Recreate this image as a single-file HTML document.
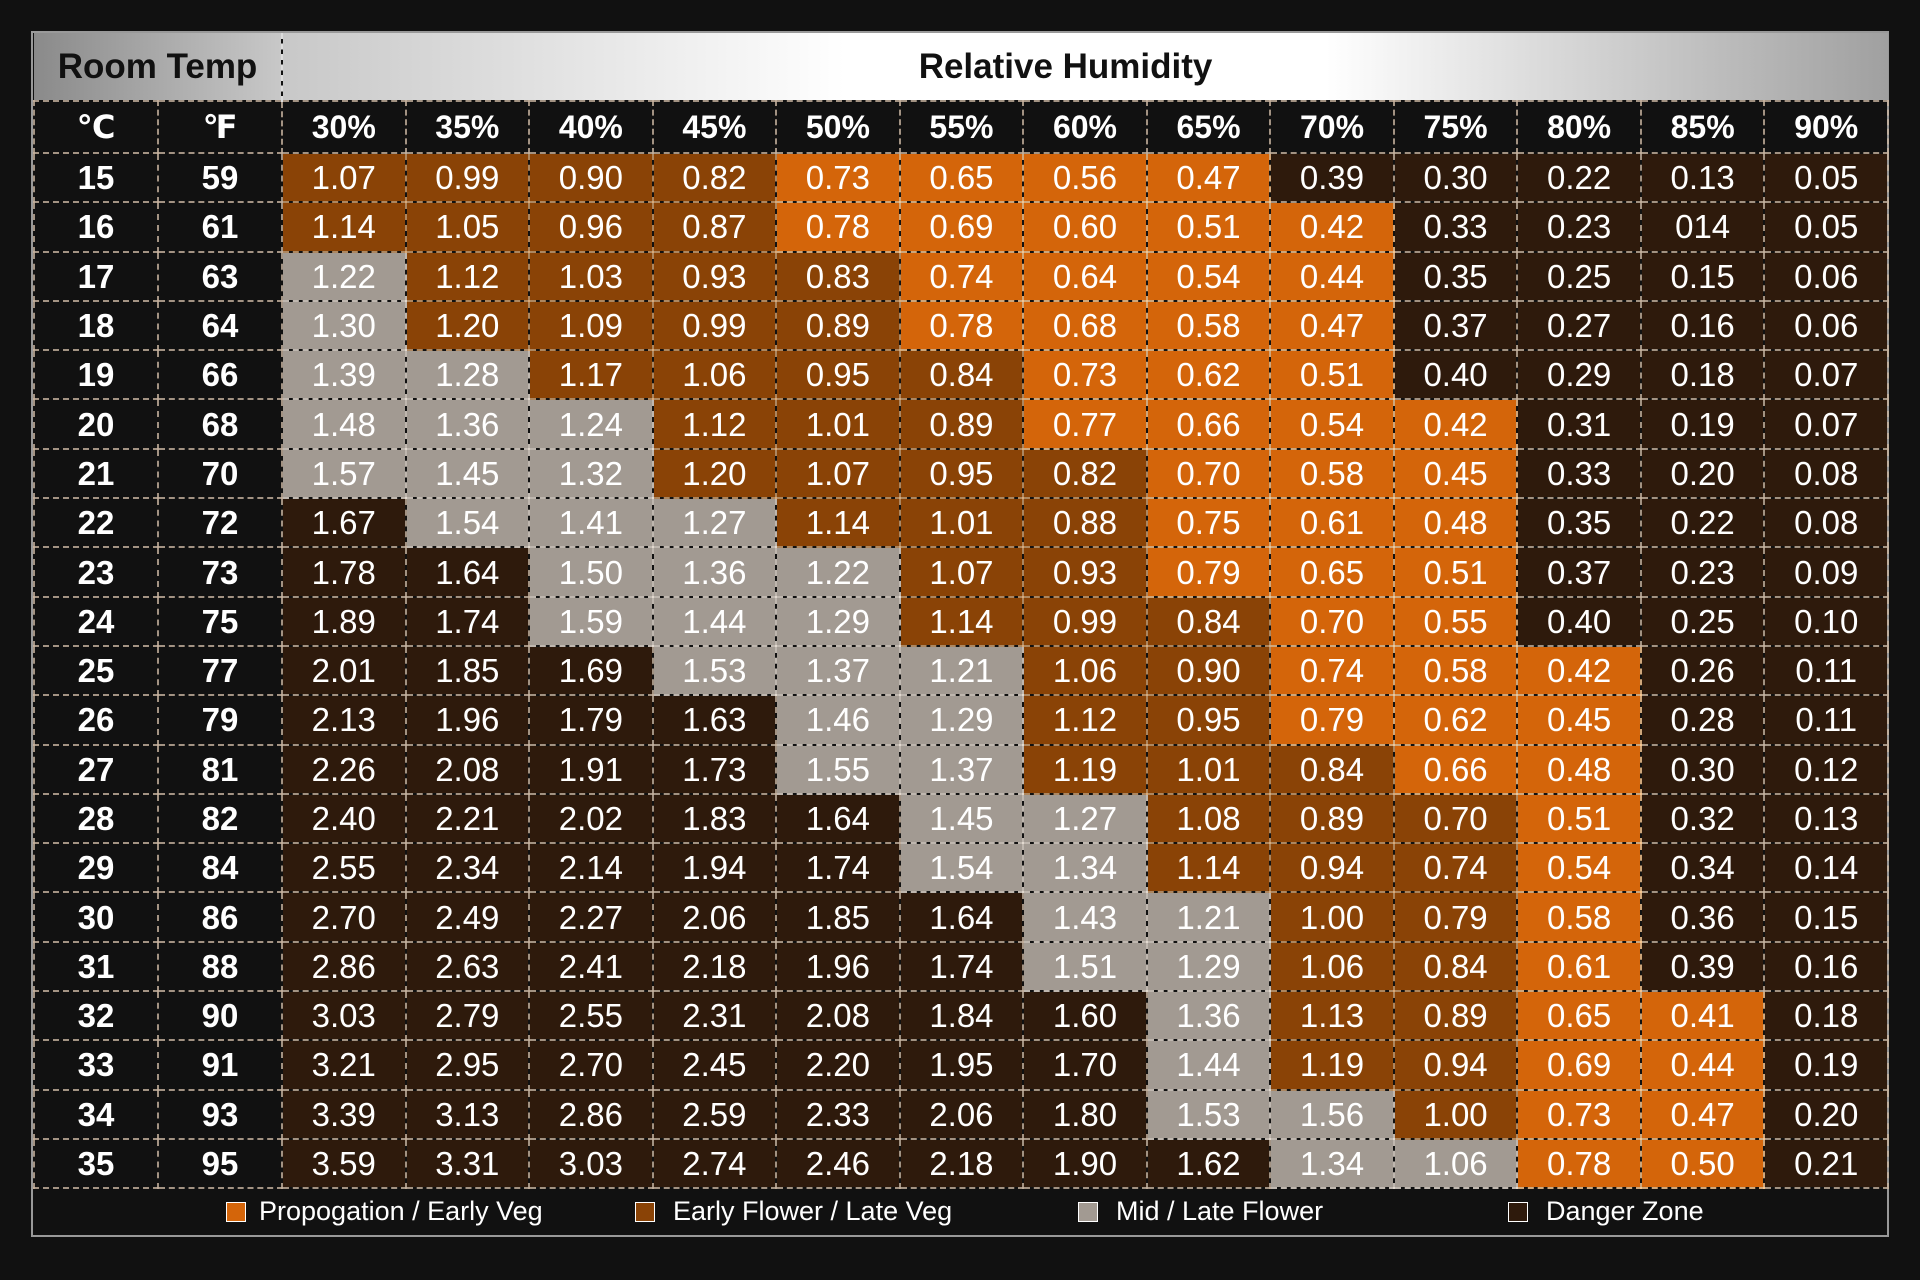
<!DOCTYPE html>
<html><head><meta charset="utf-8"><style>
html,body{margin:0;padding:0;background:#111;width:1920px;height:1280px;overflow:hidden;font-family:"Liberation Sans","DejaVu Sans",sans-serif;}
#wrap{position:absolute;left:31px;top:31px;width:1858px;height:1206px;border:2px solid #999;box-sizing:border-box;background:#111;}
table{position:absolute;left:0;top:0;border-collapse:collapse;table-layout:fixed;width:1854px;}
td{padding:0;text-align:center;color:#fff;font-size:33px;border:2px dashed rgba(200,180,160,0.8);height:47.3px;line-height:47px;overflow:hidden;white-space:nowrap;}
tr.h td{height:67px;border:none;font-weight:bold;color:#111;font-size:35px;}
tr.c td{height:50px;font-weight:bold;font-size:32px;background:#111;}
td.t{font-weight:bold;background:#111;}
.O{background:#d4650a;border-color:rgba(255,205,150,0.8);}
.B{background:#8a4306;border-color:rgba(240,185,130,0.7);}
.G{background:#a29a92;border-color:rgba(235,225,215,0.8);}
.D{background:#2e1a0c;}
#leg{position:absolute;left:0;top:1154px;width:1854px;height:48px;color:#fff;font-size:27px;}
.li{position:absolute;top:0;height:48px;line-height:48px;}
.sq{position:absolute;top:15px;width:20px;height:20px;border:1.5px solid #fff;box-sizing:border-box;}
</style></head><body>
<div id="wrap">
<table>
<colgroup><col style="width:124px"><col style="width:124px"><col span="13" style="width:123.54px"></colgroup>
<tr class="h"><td colspan="2" style="background:linear-gradient(90deg,#8a8a8a,#c8c8c8);border-right:2px dashed #ddd;">Room Temp</td><td colspan="13" style="background:linear-gradient(90deg,#c8c8c8 0%,#fff 35%,#fff 65%,#a0a0a0 100%);padding-right:40px;">Relative Humidity</td></tr>
<tr class="c"><td>℃</td><td>℉</td><td>30%</td><td>35%</td><td>40%</td><td>45%</td><td>50%</td><td>55%</td><td>60%</td><td>65%</td><td>70%</td><td>75%</td><td>80%</td><td>85%</td><td>90%</td></tr>
<tr><td class="t">15</td><td class="t">59</td><td class="B">1.07</td><td class="B">0.99</td><td class="B">0.90</td><td class="B">0.82</td><td class="O">0.73</td><td class="O">0.65</td><td class="O">0.56</td><td class="O">0.47</td><td class="D">0.39</td><td class="D">0.30</td><td class="D">0.22</td><td class="D">0.13</td><td class="D">0.05</td></tr>
<tr><td class="t">16</td><td class="t">61</td><td class="B">1.14</td><td class="B">1.05</td><td class="B">0.96</td><td class="B">0.87</td><td class="O">0.78</td><td class="O">0.69</td><td class="O">0.60</td><td class="O">0.51</td><td class="O">0.42</td><td class="D">0.33</td><td class="D">0.23</td><td class="D">014</td><td class="D">0.05</td></tr>
<tr><td class="t">17</td><td class="t">63</td><td class="G">1.22</td><td class="B">1.12</td><td class="B">1.03</td><td class="B">0.93</td><td class="B">0.83</td><td class="O">0.74</td><td class="O">0.64</td><td class="O">0.54</td><td class="O">0.44</td><td class="D">0.35</td><td class="D">0.25</td><td class="D">0.15</td><td class="D">0.06</td></tr>
<tr><td class="t">18</td><td class="t">64</td><td class="G">1.30</td><td class="B">1.20</td><td class="B">1.09</td><td class="B">0.99</td><td class="B">0.89</td><td class="O">0.78</td><td class="O">0.68</td><td class="O">0.58</td><td class="O">0.47</td><td class="D">0.37</td><td class="D">0.27</td><td class="D">0.16</td><td class="D">0.06</td></tr>
<tr><td class="t">19</td><td class="t">66</td><td class="G">1.39</td><td class="G">1.28</td><td class="B">1.17</td><td class="B">1.06</td><td class="B">0.95</td><td class="B">0.84</td><td class="O">0.73</td><td class="O">0.62</td><td class="O">0.51</td><td class="D">0.40</td><td class="D">0.29</td><td class="D">0.18</td><td class="D">0.07</td></tr>
<tr><td class="t">20</td><td class="t">68</td><td class="G">1.48</td><td class="G">1.36</td><td class="G">1.24</td><td class="B">1.12</td><td class="B">1.01</td><td class="B">0.89</td><td class="O">0.77</td><td class="O">0.66</td><td class="O">0.54</td><td class="O">0.42</td><td class="D">0.31</td><td class="D">0.19</td><td class="D">0.07</td></tr>
<tr><td class="t">21</td><td class="t">70</td><td class="G">1.57</td><td class="G">1.45</td><td class="G">1.32</td><td class="B">1.20</td><td class="B">1.07</td><td class="B">0.95</td><td class="B">0.82</td><td class="O">0.70</td><td class="O">0.58</td><td class="O">0.45</td><td class="D">0.33</td><td class="D">0.20</td><td class="D">0.08</td></tr>
<tr><td class="t">22</td><td class="t">72</td><td class="D">1.67</td><td class="G">1.54</td><td class="G">1.41</td><td class="G">1.27</td><td class="B">1.14</td><td class="B">1.01</td><td class="B">0.88</td><td class="O">0.75</td><td class="O">0.61</td><td class="O">0.48</td><td class="D">0.35</td><td class="D">0.22</td><td class="D">0.08</td></tr>
<tr><td class="t">23</td><td class="t">73</td><td class="D">1.78</td><td class="D">1.64</td><td class="G">1.50</td><td class="G">1.36</td><td class="G">1.22</td><td class="B">1.07</td><td class="B">0.93</td><td class="O">0.79</td><td class="O">0.65</td><td class="O">0.51</td><td class="D">0.37</td><td class="D">0.23</td><td class="D">0.09</td></tr>
<tr><td class="t">24</td><td class="t">75</td><td class="D">1.89</td><td class="D">1.74</td><td class="G">1.59</td><td class="G">1.44</td><td class="G">1.29</td><td class="B">1.14</td><td class="B">0.99</td><td class="B">0.84</td><td class="O">0.70</td><td class="O">0.55</td><td class="D">0.40</td><td class="D">0.25</td><td class="D">0.10</td></tr>
<tr><td class="t">25</td><td class="t">77</td><td class="D">2.01</td><td class="D">1.85</td><td class="D">1.69</td><td class="G">1.53</td><td class="G">1.37</td><td class="G">1.21</td><td class="B">1.06</td><td class="B">0.90</td><td class="O">0.74</td><td class="O">0.58</td><td class="O">0.42</td><td class="D">0.26</td><td class="D">0.11</td></tr>
<tr><td class="t">26</td><td class="t">79</td><td class="D">2.13</td><td class="D">1.96</td><td class="D">1.79</td><td class="D">1.63</td><td class="G">1.46</td><td class="G">1.29</td><td class="B">1.12</td><td class="B">0.95</td><td class="O">0.79</td><td class="O">0.62</td><td class="O">0.45</td><td class="D">0.28</td><td class="D">0.11</td></tr>
<tr><td class="t">27</td><td class="t">81</td><td class="D">2.26</td><td class="D">2.08</td><td class="D">1.91</td><td class="D">1.73</td><td class="G">1.55</td><td class="G">1.37</td><td class="B">1.19</td><td class="B">1.01</td><td class="B">0.84</td><td class="O">0.66</td><td class="O">0.48</td><td class="D">0.30</td><td class="D">0.12</td></tr>
<tr><td class="t">28</td><td class="t">82</td><td class="D">2.40</td><td class="D">2.21</td><td class="D">2.02</td><td class="D">1.83</td><td class="D">1.64</td><td class="G">1.45</td><td class="G">1.27</td><td class="B">1.08</td><td class="B">0.89</td><td class="B">0.70</td><td class="O">0.51</td><td class="D">0.32</td><td class="D">0.13</td></tr>
<tr><td class="t">29</td><td class="t">84</td><td class="D">2.55</td><td class="D">2.34</td><td class="D">2.14</td><td class="D">1.94</td><td class="D">1.74</td><td class="G">1.54</td><td class="G">1.34</td><td class="B">1.14</td><td class="B">0.94</td><td class="B">0.74</td><td class="O">0.54</td><td class="D">0.34</td><td class="D">0.14</td></tr>
<tr><td class="t">30</td><td class="t">86</td><td class="D">2.70</td><td class="D">2.49</td><td class="D">2.27</td><td class="D">2.06</td><td class="D">1.85</td><td class="D">1.64</td><td class="G">1.43</td><td class="G">1.21</td><td class="B">1.00</td><td class="B">0.79</td><td class="O">0.58</td><td class="D">0.36</td><td class="D">0.15</td></tr>
<tr><td class="t">31</td><td class="t">88</td><td class="D">2.86</td><td class="D">2.63</td><td class="D">2.41</td><td class="D">2.18</td><td class="D">1.96</td><td class="D">1.74</td><td class="G">1.51</td><td class="G">1.29</td><td class="B">1.06</td><td class="B">0.84</td><td class="O">0.61</td><td class="D">0.39</td><td class="D">0.16</td></tr>
<tr><td class="t">32</td><td class="t">90</td><td class="D">3.03</td><td class="D">2.79</td><td class="D">2.55</td><td class="D">2.31</td><td class="D">2.08</td><td class="D">1.84</td><td class="D">1.60</td><td class="G">1.36</td><td class="B">1.13</td><td class="B">0.89</td><td class="O">0.65</td><td class="O">0.41</td><td class="D">0.18</td></tr>
<tr><td class="t">33</td><td class="t">91</td><td class="D">3.21</td><td class="D">2.95</td><td class="D">2.70</td><td class="D">2.45</td><td class="D">2.20</td><td class="D">1.95</td><td class="D">1.70</td><td class="G">1.44</td><td class="B">1.19</td><td class="B">0.94</td><td class="O">0.69</td><td class="O">0.44</td><td class="D">0.19</td></tr>
<tr><td class="t">34</td><td class="t">93</td><td class="D">3.39</td><td class="D">3.13</td><td class="D">2.86</td><td class="D">2.59</td><td class="D">2.33</td><td class="D">2.06</td><td class="D">1.80</td><td class="G">1.53</td><td class="G">1.56</td><td class="B">1.00</td><td class="O">0.73</td><td class="O">0.47</td><td class="D">0.20</td></tr>
<tr><td class="t">35</td><td class="t">95</td><td class="D">3.59</td><td class="D">3.31</td><td class="D">3.03</td><td class="D">2.74</td><td class="D">2.46</td><td class="D">2.18</td><td class="D">1.90</td><td class="D">1.62</td><td class="G">1.34</td><td class="G">1.06</td><td class="O">0.78</td><td class="O">0.50</td><td class="D">0.21</td></tr>
</table>
<div id="leg">
<div class="sq" style="left:193px;background:#d4650a;"></div><div class="li" style="left:226px;">Propogation / Early Veg</div>
<div class="sq" style="left:602px;background:#8a4306;"></div><div class="li" style="left:640px;">Early Flower / Late Veg</div>
<div class="sq" style="left:1045px;background:#a29a92;"></div><div class="li" style="left:1083px;">Mid / Late Flower</div>
<div class="sq" style="left:1475px;background:#2e1a0c;"></div><div class="li" style="left:1513px;">Danger Zone</div>
</div>
</div>
</body></html>
